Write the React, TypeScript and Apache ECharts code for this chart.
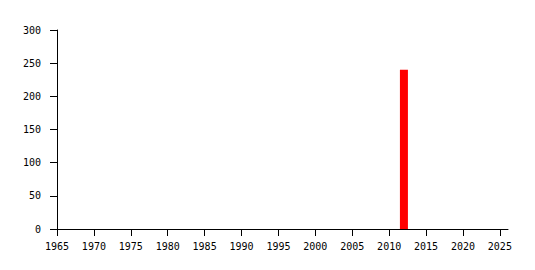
import React, { useEffect, useRef } from "react";
import * as echarts from "echarts";

const years: number[] = [2012];
const values: number[] = [240];
const xTicks: number[] = [1965, 1970, 1975, 1980, 1985, 1990, 1995, 2000, 2005, 2010, 2015, 2020, 2025];

export default function App() {
  const ref = useRef<HTMLDivElement>(null);
  useEffect(() => {
    if (!ref.current) return;
    const chart = echarts.init(ref.current, null, { renderer: "svg" });
    const font = { fontFamily: "DejaVu Sans Mono", fontSize: 10, color: "#000" };
    chart.setOption({
      animation: false,
      backgroundColor: "#fff",
      grid: { left: 57, top: 30, right: 27, bottom: 41 },
      xAxis: {
        type: "value",
        min: 1965,
        max: 2026.1,
        splitLine: { show: false },
        axisLine: { show: true, lineStyle: { color: "#000", width: 1 } },
        axisTick: { show: true, length: 7, lineStyle: { color: "#000" }, customValues: xTicks },
        axisLabel: { ...font, margin: 12, customValues: xTicks, formatter: (v: number) => String(v) },
      },
      yAxis: {
        type: "value",
        min: 0,
        max: 300,
        interval: 50,
        splitLine: { show: false },
        axisLine: { show: true, lineStyle: { color: "#000", width: 1 } },
        axisTick: { show: true, length: 7, lineStyle: { color: "#000" } },
        axisLabel: { ...font, margin: 16 },
      },
      series: [
        {
          type: "bar",
          data: years.map((y, i) => [y, values[i]]),
          barWidth: 8,
          itemStyle: { color: "#ff0000" },
        },
      ],
    });
    return () => chart.dispose();
  }, []);
  return <div ref={ref} style={{ width: 535, height: 270, position: "absolute", left: 0, top: 0 }} />;
}
